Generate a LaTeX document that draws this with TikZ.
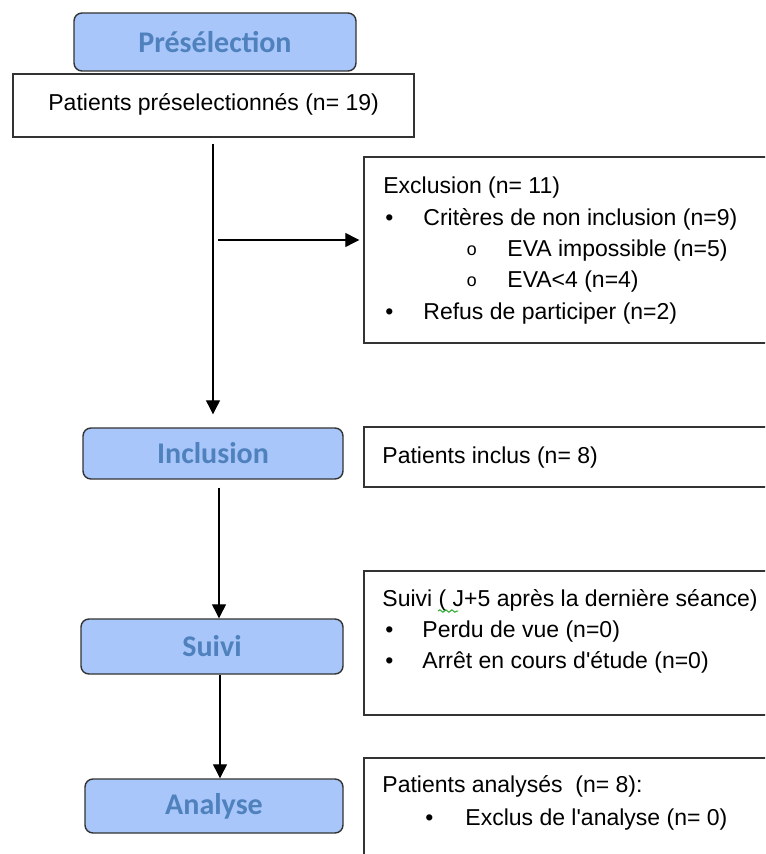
\documentclass[tikz,border=0pt]{standalone}
\usepackage{fontspec}
\setmainfont{Liberation Sans}
\newfontfamily\headfont{Carlito}
\newfontfamily\markfont{Liberation Mono}
\usetikzlibrary{arrows.meta,decorations.pathmorphing}
\definecolor{stagefill}{RGB}{168,198,250}
\definecolor{stagetext}{RGB}{79,129,189}
\definecolor{spellgreen}{RGB}{40,170,40}
\tikzset{%
  stage/.style   = {shape=rectangle, rounded corners=4pt, draw=black!80,%
                    line width=0.7pt, fill=stagefill, text=stagetext,%
                    inner sep=0pt, font=\headfont\bfseries\fontsize{15}{18}\selectfont},%
  infobox/.style = {shape=rectangle, draw=black!80, line width=0.7pt,%
                    fill=white, inner sep=0pt},%
  txt/.style     = {anchor=base west, inner sep=0pt,%
                    font=\fontsize{11.5}{14}\selectfont},%
  submark/.style = {txt, font=\markfont\fontsize{9}{11}\selectfont},%
  flow/.style    = {-{Triangle[length=7pt,width=7pt]}, line width=0.6pt}%
}

\begin{document}
\begin{tikzpicture}[x=0.5pt,y=-0.5pt]
	\clip (0,0) rectangle (765,854);
	\fill[white] (0,0) rectangle (765,854);
		% stages
		\node [stage, minimum width=141pt, minimum height=29pt] (presel) at (215,42) {Présélection};
		\node [stage, minimum width=130pt, minimum height=25.5pt] (incl) at (213,453.5) {Inclusion};
		\node [stage, minimum width=131pt, minimum height=27.5pt] (suivi) at (212,646.5) {Suivi};
		\node [stage, minimum width=129pt, minimum height=27pt] (analyse) at (214,806) {Analyse};
		% boxes
		\node [infobox, minimum width=200.5pt, minimum height=31.5pt] (preselbox) at (213.5,105.5) {};
		\node [infobox, minimum width=203pt, minimum height=93pt] (exclbox) at (567,250) {};
		\node [infobox, minimum width=203pt, minimum height=30pt] (inclbox) at (567,457) {};
		\node [infobox, minimum width=203pt, minimum height=72pt] (suivibox) at (567,643) {};
		\node [infobox, minimum width=203pt, minimum height=60pt] (analysebox) at (567,818) {};
		% texts
		\node [txt] (presel-t) at (48,111) {Patients préselectionnés (n= 19)};
		\node [txt] (excl-t) at (383,194) {Exclusion (n= 11)};
		\node [txt] (excl-b1) at (385,226) {•};
		\node [txt] (excl-1) at (423,226) {Critères de non inclusion (n=9)};
		\node [submark] (excl-o1) at (466,256) {o};
		\node [txt] (excl-11) at (507,257) {EVA impossible (n=5)};
		\node [submark] (excl-o2) at (466,287) {o};
		\node [txt] (excl-12) at (507,288) {EVA<4 (n=4)};
		\node [txt] (excl-b2) at (385,320) {•};
		\node [txt] (excl-2) at (423,320) {Refus de participer (n=2)};
		\node [txt] (incl-t) at (382,463) {Patients inclus (n= 8)};
		\node [txt] (suivi-t) at (382,606) {Suivi ( J+5 après la dernière séance)};
		\node [txt] (suivi-b1) at (385,637) {•};
		\node [txt] (suivi-1) at (422,637) {Perdu de vue (n=0)};
		\node [txt] (suivi-b2) at (385,668) {•};
		\node [txt] (suivi-2) at (422,668) {Arrêt en cours d\textquotesingle étude (n=0)};
		\node [txt] (analyse-t) at (382,792) {Patients analysés~ (n= 8):};
		\node [txt] (analyse-b1) at (425,825) {•};
		\node [txt] (analyse-1) at (465,825) {Exclus de l\textquotesingle analyse (n= 0)};
		\draw [spellgreen, line width=0.5pt, decorate,
			decoration={snake, amplitude=0.6pt, segment length=3pt}] (438,611) -- (458,611);
		% connectors
		\coordinate (branch) at (218,240);
		\draw [flow, shorten >=6.5pt] ([yshift=-3pt]preselbox.south -| incl.north) -- (incl.north);
		\draw [flow, shorten >=2pt] (branch) -- (branch -| exclbox.west);
		\draw [flow] ([xshift=3pt,yshift=-4pt]incl.south) -- ([xshift=3.5pt]suivi.north);
		\draw [flow] ([xshift=4pt]suivi.south) -- ([xshift=3pt]analyse.north);
\end{tikzpicture}
\end{document}
